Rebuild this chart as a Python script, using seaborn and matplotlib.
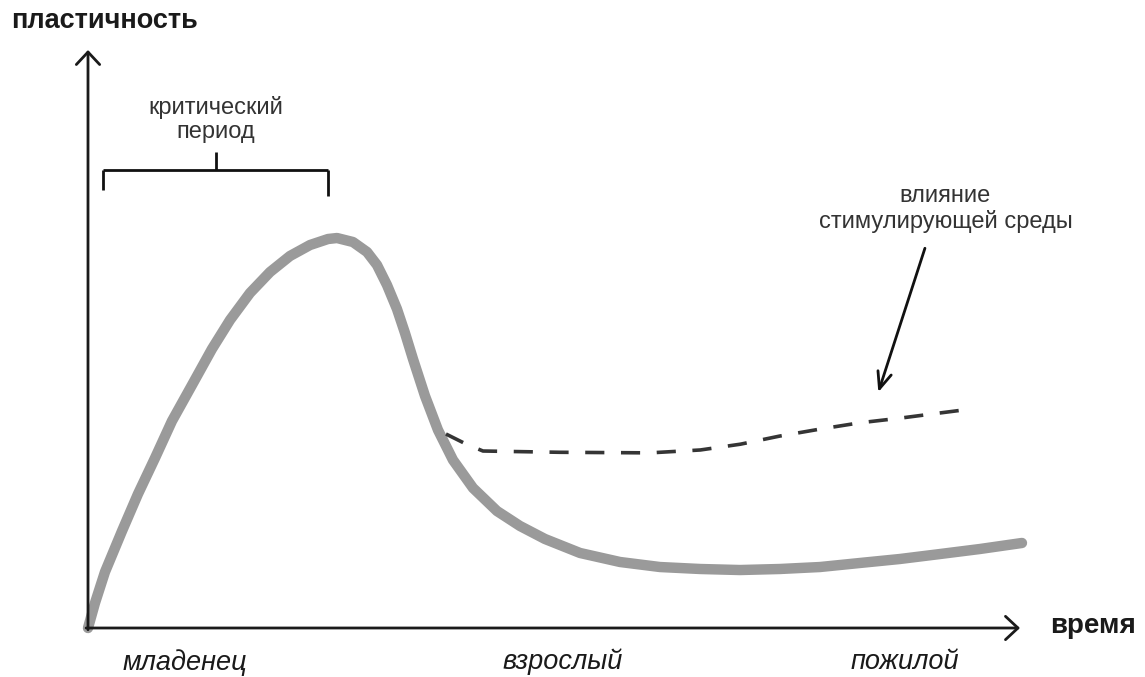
import numpy as np
import pandas as pd
import matplotlib
matplotlib.use("Agg")
import matplotlib.pyplot as plt
import seaborn as sns

# plasticity over lifetime (time 0..100, plasticity 0..100)
time_main = [0, 0.75, 1.82, 3.65, 5.36, 7.19, 9.01, 11.16, 13.30, 15.24, 17.38, 19.53,
             21.67, 23.82, 25.75, 26.72, 28.43, 29.94, 31.01, 32.08, 33.15, 34.01, 34.87,
             36.16, 37.55, 39.16, 41.31, 43.88, 46.35, 49.03, 52.79, 57.08, 61.37, 65.67,
             69.96, 74.25, 78.54, 82.83, 87.12, 91.42, 95.71, 100.21]
plast_main = [0, 4.33, 9.69, 16.78, 23.18, 29.41, 35.81, 42.04, 48.27, 53.29, 57.96, 61.59,
              64.36, 66.26, 67.30, 67.47, 66.78, 65.05, 62.80, 59.34, 55.19, 51.04, 46.54,
              40.14, 34.26, 29.07, 24.22, 20.24, 17.65, 15.40, 12.98, 11.42, 10.55, 10.21,
              10.03, 10.21, 10.55, 11.25, 11.94, 12.80, 13.67, 14.71]

# enriched environment branch
time_env = [38.41, 40.56, 42.38, 50.6, 60.3, 65.7, 70.0, 74.2, 78.5, 82.8, 87.1, 91.4, 94.8]
plast_env = [33.56, 31.83, 30.62, 30.4, 30.3, 30.8, 31.8, 33.2, 34.4, 35.5, 36.3, 37.2, 37.9]

age_labels = ["младенец", "взрослый", "пожилой"]
age_pos = [10.4, 50.9, 87.6]

crit_start, crit_end = 1.6, 25.8

sns.set_theme(style="white")
plt.rcParams["font.family"] = ["Liberation Sans", "DejaVu Sans"]

fig = plt.figure(figsize=(11.45, 6.77), dpi=100)
ax = fig.add_axes([88 / 1145, 49 / 677, 932 / 1145, 578 / 677])
ax.set_xlim(0, 100)
ax.set_ylim(0, 100)
ax.axis("off")

main = pd.DataFrame({"time": time_main, "plasticity": plast_main})
env = pd.DataFrame({"time": time_env, "plasticity": plast_env})

sns.lineplot(data=main, x="time", y="plasticity", ax=ax, color="#9a9a9a", lw=7.5,
             sort=False, solid_capstyle="round", solid_joinstyle="round", clip_on=False)
sns.lineplot(data=env, x="time", y="plasticity", ax=ax, color="#353535", lw=2.6,
             sort=False, clip_on=False, linestyle=(0, (5.3, 4.6)))

# axes with open arrow heads
axis_kw = dict(arrowstyle="->,head_length=0.45,head_width=0.42", color="#1a1a1a", lw=2,
               mutation_scale=20, shrinkA=0, shrinkB=0)
ax.annotate("", xy=(0, 100), xytext=(0, -0.3), arrowprops=axis_kw, annotation_clip=False)
ax.annotate("", xy=(100, 0), xytext=(-0.2, 0), arrowprops=axis_kw, annotation_clip=False)

ax.text(-8.2, 105.0, "пластичность", fontsize=19.5, fontweight="bold", ha="left",
        va="center", color="#1a1a1a")
ax.text(103.2, 0.3, "время", fontsize=20, fontweight="bold", ha="left", va="center",
        color="#1a1a1a")

for lab, pos in zip(age_labels, age_pos):
    ax.text(pos, -5.9, lab, fontsize=19.5, fontstyle="italic", ha="center", va="center",
            color="#1a1a1a")

# critical period bracket
bk = dict(color="#111111", lw=2, solid_capstyle="butt", clip_on=False)
ax.plot([crit_start, crit_end], [79.2, 79.2], **bk)
ax.plot([crit_start, crit_start], [79.2, 75.8], **bk)
ax.plot([crit_end, crit_end], [79.2, 74.7], **bk)
mid = (crit_start + crit_end) / 2
ax.plot([mid, mid], [79.2, 82.4], **bk)
ax.text(mid, 88.0, "критический\nпериод", fontsize=17, ha="center", va="center",
        color="#333333", linespacing=1.15)

# environment annotation
ax.annotate("", xy=(84.8, 40.8), xytext=(89.8, 65.7),
            arrowprops=dict(arrowstyle="->,head_length=0.6,head_width=0.25", color="#111111",
                            lw=2, mutation_scale=20, shrinkA=0, shrinkB=0))
ax.text(92.0, 72.5, "влияние\nстимулирующей среды", fontsize=17, ha="center", va="center",
        color="#333333", linespacing=1.15)

fig.savefig("out.png", dpi=100)
